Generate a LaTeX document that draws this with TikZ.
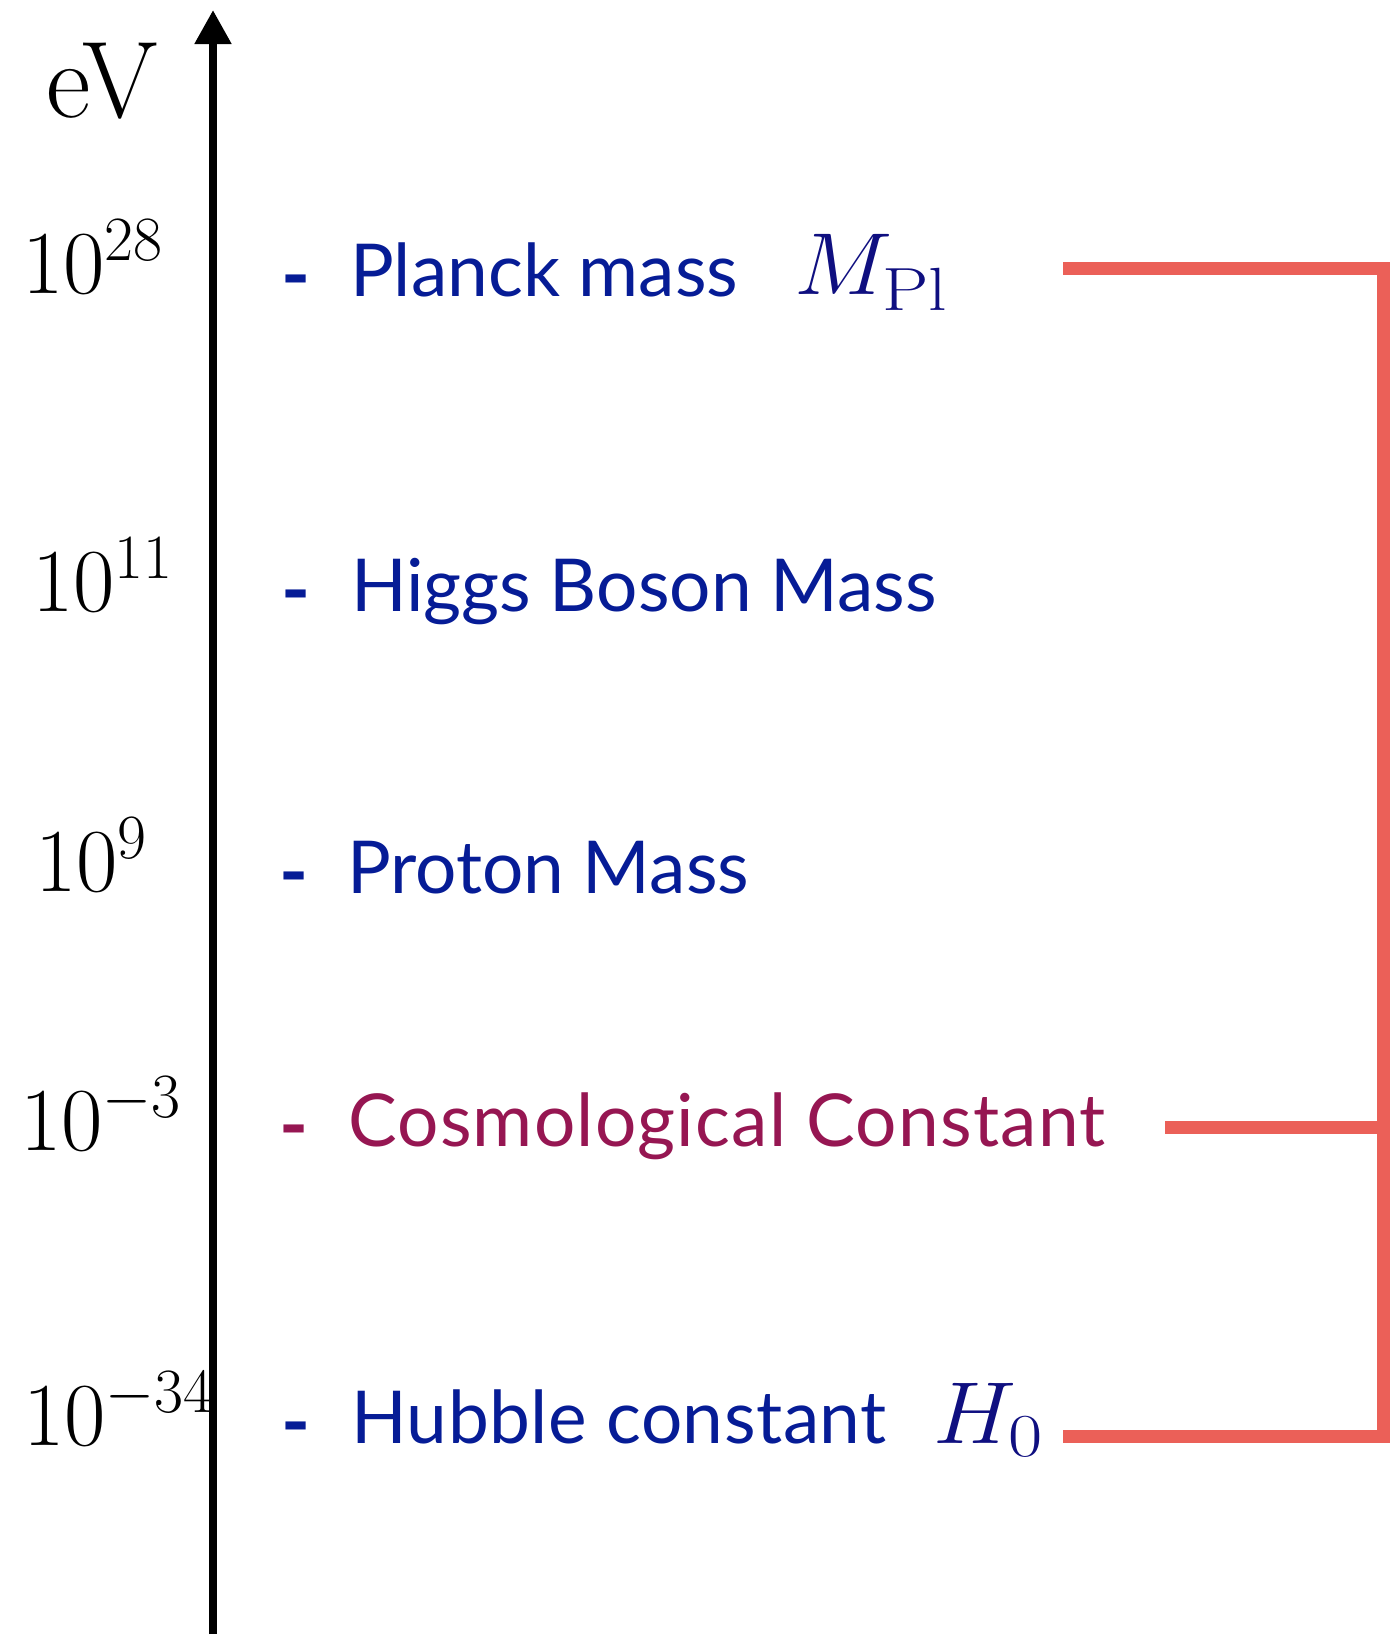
\RequirePackage{fix-cm}
\documentclass[tikz,border=0pt]{standalone}
\usepackage{graphicx}
\usepackage{fontspec}
\newfontfamily\labelfont{Lato}
\newfontfamily\cosmofont[LetterSpace=1.7]{Lato}
\newfontfamily\hubblefont[LetterSpace=0.7]{Lato}
\usetikzlibrary{arrows.meta}
\definecolor{lblue}{RGB}{6,28,150}
\definecolor{mblue}{RGB}{15,15,128}
\definecolor{cosmo}{RGB}{150,22,82}
\definecolor{bracketred}{RGB}{235,96,88}
\newcommand{\subtxt}[3]{\raisebox{#3}{\scalebox{#1}[1]{\fontsize{61}{62}\selectfont #2}}}
\tikzset{
  lbl/.style={anchor=base west, inner sep=0pt, font=\labelfont\fontsize{73}{85}\selectfont, text=lblue},
  dashmark/.style={anchor=base west, inner sep=0pt, font=\labelfont\bfseries\fontsize{78}{85}\selectfont, text=lblue},
  num/.style={anchor=base west, inner sep=0pt, font=\fontsize{90}{100}\selectfont},
  mth/.style={anchor=base west, inner sep=0pt, font=\fontsize{88}{100}\selectfont, text=mblue},
  brk/.style={draw=bracketred, line width=13pt, line join=miter, line cap=butt},
  axisline/.style={line width=8pt, -{Triangle[length=34pt,width=35pt]}}
}
\begin{document}
\begin{tikzpicture}[x=1pt,y=-1pt]
\useasboundingbox (0,0) rectangle (1395,1639);
% axis
\coordinate (axbot) at (213,1634);
\coordinate (axtop) at (213,10);
\draw[axisline] (axbot) -- (axtop);
\node[anchor=base west, inner sep=0pt, font=\fontsize{109}{115}\selectfont] (ev) at (46,117) {eV};
% numbers
\node[num] (n28) at (22,293) {$10^{28}$};
\node[num] (n11) at (32,611) {$10^{11}$};
\node[num] (n9)  at (35,891) {$10^{9}$};
\node[num] (n3)  at (20,1150) {$10^{-3}$};
\node[num] (n34) at (23,1445) {$10^{-34}$};
% dashes
\node[dashmark] (d1) at (281,302) {-};
\node[dashmark] (d2) at (281,617) {-};
\node[dashmark] (d3) at (279,899) {-};
\node[dashmark, text=cosmo] (d4) at (279,1152) {-};
\node[dashmark] (d5) at (281,1449) {-};
% labels
\node[lbl] (planck) at (350,296) {Planck mass};
\node[mth] (mpl) at (794,294) {\scalebox{1.06}[1]{$M_{\subtxt{1.14}{Pl}{-3pt}}$}};
\node[lbl] (higgs) at (351,611) {Higgs Boson Mass};
\node[lbl] (proton) at (347,893) {Proton Mass};
\node[lbl, font=\cosmofont\fontsize{73}{85}\selectfont, text=cosmo] (cc) at (348,1146) {Cosmological Constant};
\node[lbl, font=\hubblefont\fontsize{73}{85}\selectfont] (hubble) at (351,1443) {Hubble constant};
\node[mth] (h0) at (933,1443) {\scalebox{1.06}[1]{$H_{\subtxt{1.15}{0}{0pt}}$}};
% bracket
\coordinate (bt1) at (1063,268);
\coordinate (bt2) at (1383,268);
\coordinate (bb2) at (1383,1436);
\coordinate (bb1) at (1063,1436);
\coordinate (bm1) at (1165,1127);
\coordinate (bm2) at (1383,1127);
\draw[brk] (bt1) -- (bt2) -- (bb2) -- (bb1);
\draw[brk] (bm1) -- (bm2);
\end{tikzpicture}
\end{document}
